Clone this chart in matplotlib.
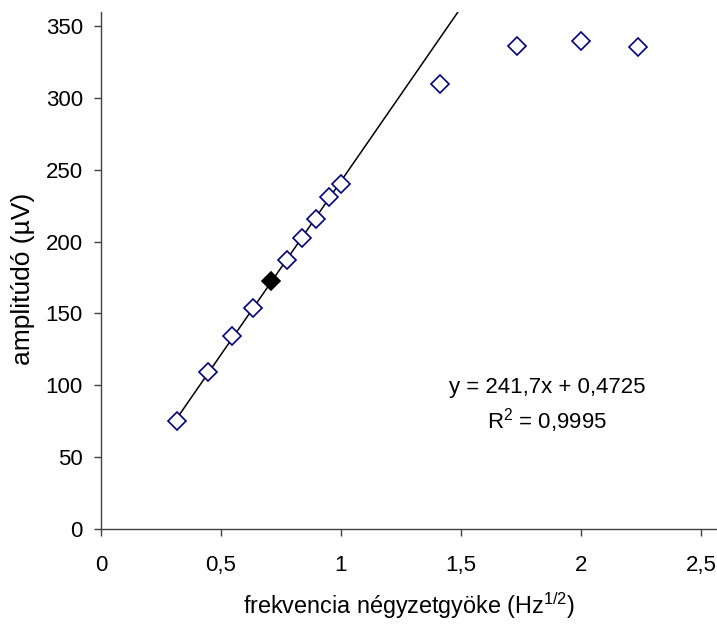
import numpy as np
import matplotlib
matplotlib.use('Agg')
import matplotlib.pyplot as plt
from matplotlib.ticker import FuncFormatter, MultipleLocator

plt.rcParams['font.family'] = ['Liberation Sans', 'DejaVu Sans']
plt.rcParams['mathtext.fontset'] = 'custom'
plt.rcParams['mathtext.rm'] = 'Liberation Sans'
plt.rcParams['mathtext.default'] = 'regular'

# stimulation frequency (Hz) and measured amplitude (uV)
freq = [0.1, 0.2, 0.3, 0.4, 0.5, 0.6, 0.7, 0.8, 0.9, 1.0, 2.0, 3.0, 4.0, 5.0]
amplitude = [75.2, 109.3, 134.1, 154.1, 172.6, 187.5, 202.8, 216.0, 231.0, 240.4,
             309.9, 336.6, 339.6, 335.4]
highlight_freq = 0.5

# linear fit over the 0.1 - 1 Hz range
slope = 241.7
intercept = 0.4725
r_squared = 0.9995

sqrt_f = np.sqrt(freq)
amp = np.array(amplitude)
hl = np.isclose(freq, highlight_freq)


def comma(v, pos):
    return f'{v:g}'.replace('.', ',')


fig = plt.figure(figsize=(7.17, 6.24), dpi=100)
ax = fig.add_axes([0.1409, 0.1527, 0.859, 0.828])

xfit = np.array([sqrt_f[0], 2.0])
ax.plot(xfit, slope * xfit + intercept, color='black', lw=1.1, zorder=2)

ax.plot(sqrt_f[~hl], amp[~hl], ls='none', marker='D', ms=9.5,
        mfc='white', mec='#000080', mew=1.2, zorder=3)
ax.plot(sqrt_f[hl], amp[hl], ls='none', marker='D', ms=9.5,
        mfc='black', mec='black', mew=1.2, zorder=4)

eq = f'y = {slope:g}x + {intercept:g}'.replace('.', ',')
r2 = f'R$^2$ = {r_squared:g}'.replace('.', ',')
ax.text(1.858, 98.6, eq, ha='center', va='center', fontsize=16)
ax.text(1.858, 75.6, r2, ha='center', va='center', fontsize=16)

ax.set_xlim(0, 2.567)
ax.set_ylim(0, 360)
ax.xaxis.set_major_locator(MultipleLocator(0.5))
ax.yaxis.set_major_locator(MultipleLocator(50))
ax.xaxis.set_major_formatter(FuncFormatter(comma))
ax.yaxis.set_major_formatter(FuncFormatter(comma))

for side in ('top', 'right'):
    ax.spines[side].set_visible(False)
for side in ('left', 'bottom'):
    ax.spines[side].set_color('#404040')
    ax.spines[side].set_linewidth(1.0)
ax.tick_params(direction='out', length=5, width=1, color='#404040',
               labelsize=16)
ax.tick_params(axis='x', pad=14)
ax.tick_params(axis='y', pad=8)

ax.set_xlabel('frekvencia négyzetgyöke (Hz$^{1/2}$)', fontsize=16.8, labelpad=10)
ax.set_ylabel('amplitúdó (µV)', fontsize=19)
ax.yaxis.set_label_coords(-0.108, 0.483)

fig.savefig('out.png', dpi=100)
